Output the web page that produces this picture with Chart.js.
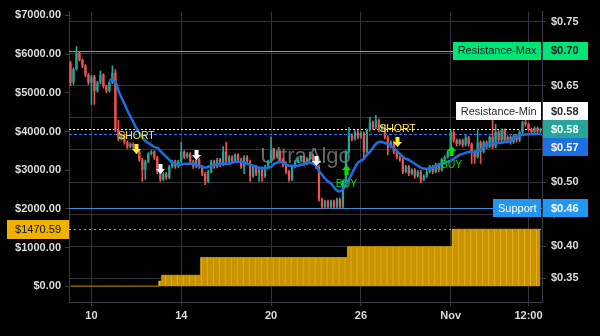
<!DOCTYPE html>
<html lang="en">
<head>
<meta charset="UTF-8">
<title>UltraAlgo</title>
<script src="https://cdn.jsdelivr.net/npm/chart.js@4.4.0/dist/chart.umd.min.js"></script>
<style>
  html, body { margin: 0; padding: 0; background: #000; }
  canvas { display: block; }
</style>
</head>
<body>
<canvas id="chart" width="600" height="336"></canvas>
<script>
// ── Candles (price, right axis) ──────────────────────────────────────────────
const opens = [
  .685,.655,.676,.701,.690,.681,.667,.655,.664,.642,
  .655,.667,.649,.642,.655,.670,.581,.567,.573,.562,
  .555,.559,.555,.547,.535,.519,.532,.544,.547,.538,
  .516,.504,.513,.507,.524,.532,.524,.532,.547,.539,
  .544,.532,.524,.535,.524,.513,.501,.516,.532,.524,
  .535,.527,.547,.532,.539,.532,.542,.535,.524,.539,
  .532,.509,.524,.513,.519,.509,.524,.532,.550,.539,
  .547,.535,.527,.516,.504,.524,.532,.535,.539,.529,
  .536,.542,.532,.524,.473,.462,.470,.461,.470,.462,
  .473,.462,.501,.547,.573,.567,.578,.570,.576,.547,
  .581,.593,.585,.596,.581,.587,.570,.555,.562,.547,
  .539,.535,.516,.524,.513,.519,.509,.516,.504,.509,
  .516,.524,.516,.527,.519,.535,.539,.547,.578,.565,
  .559,.565,.558,.569,.559,.547,.539,.562,.547,.562,
  .555,.570,.555,.578,.565,.581,.565,.570,.562,.572,
  .565,.578,.593,.590,.582,.578,.584,.579
];
const highs = [
  .688,.678,.711,.703,.692,.683,.669,.666,.666,.657,
  .673,.669,.651,.657,.681,.675,.596,.575,.575,.564,
  .561,.561,.557,.549,.537,.534,.546,.549,.549,.540,
  .518,.515,.515,.526,.534,.534,.534,.562,.549,.546,
  .546,.534,.537,.537,.526,.515,.518,.534,.534,.537,
  .537,.555,.562,.541,.541,.544,.544,.537,.541,.541,
  .534,.526,.526,.521,.521,.526,.534,.570,.552,.549,
  .549,.537,.529,.518,.526,.534,.537,.541,.541,.538,
  .547,.544,.534,.526,.475,.472,.472,.472,.472,.475,
  .475,.503,.549,.585,.575,.580,.580,.578,.578,.583,
  .601,.595,.604,.598,.589,.589,.572,.564,.564,.549,
  .541,.537,.526,.526,.521,.521,.518,.518,.511,.518,
  .526,.526,.529,.529,.537,.541,.549,.581,.580,.567,
  .567,.567,.573,.571,.561,.549,.583,.564,.564,.564,
  .572,.619,.590,.580,.583,.583,.572,.572,.574,.574,
  .580,.595,.605,.592,.584,.586,.586,.584
];
const lows = [
  .650,.652,.674,.688,.678,.664,.652,.621,.621,.640,
  .653,.646,.639,.640,.653,.578,.564,.565,.559,.552,
  .553,.552,.544,.532,.501,.504,.530,.542,.535,.513,
  .501,.502,.504,.505,.522,.521,.522,.530,.536,.537,
  .529,.521,.522,.521,.510,.496,.499,.514,.521,.522,
  .524,.525,.529,.530,.529,.530,.532,.521,.513,.529,
  .501,.507,.510,.501,.501,.507,.522,.530,.536,.537,
  .532,.524,.513,.501,.502,.522,.530,.533,.526,.527,
  .534,.529,.521,.470,.458,.460,.459,.459,.460,.460,
  .458,.460,.499,.545,.564,.565,.567,.568,.536,.545,
  .579,.582,.583,.578,.579,.567,.542,.553,.544,.536,
  .532,.513,.514,.510,.511,.506,.507,.499,.502,.507,
  .514,.513,.514,.516,.517,.533,.537,.545,.562,.556,
  .557,.555,.556,.556,.529,.529,.537,.529,.545,.552,
  .553,.552,.553,.562,.563,.562,.563,.559,.560,.562,
  .563,.576,.587,.579,.575,.576,.576,.577
];
const closes = [
  .655,.676,.701,.690,.681,.667,.655,.664,.642,.655,
  .667,.649,.642,.655,.670,.581,.567,.573,.562,.555,
  .559,.555,.547,.535,.519,.532,.544,.547,.538,.516,
  .504,.513,.507,.524,.532,.524,.532,.547,.539,.544,
  .532,.524,.535,.524,.513,.501,.516,.532,.524,.535,
  .527,.547,.532,.539,.532,.542,.535,.524,.539,.532,
  .509,.524,.513,.519,.509,.524,.532,.550,.539,.547,
  .535,.527,.516,.504,.524,.532,.535,.539,.529,.536,
  .542,.532,.524,.473,.462,.470,.461,.470,.462,.473,
  .462,.501,.547,.573,.567,.578,.570,.576,.547,.581,
  .593,.585,.596,.581,.587,.570,.555,.562,.547,.539,
  .535,.516,.524,.513,.519,.509,.516,.504,.509,.516,
  .524,.516,.527,.519,.535,.539,.547,.578,.565,.559,
  .565,.558,.569,.559,.547,.539,.562,.547,.562,.555,
  .570,.555,.578,.565,.581,.565,.570,.562,.572,.565,
  .578,.593,.590,.582,.578,.584,.579,.582
];

// ── Smoothed trend line (right axis) ─────────────────────────────────────────
const trendLine = [
  null,null,null,null,null,null,null,null,null,null,
  null,null,null,.6592,.6592,.6562,.6423,.6315,.6223,.6115,
  .6023,.5931,.5838,.5762,.5700,.5638,.5608,.5577,.5546,.5531,
  .5485,.5438,.5392,.5346,.5300,.5285,.5269,.5269,.5285,.5285,
  .5285,.5285,.5269,.5254,.5238,.5223,.5238,.5254,.5269,.5269,
  .5285,.5285,.5285,.5285,.5300,.5315,.5315,.5315,.5300,.5285,
  .5269,.5254,.5238,.5223,.5223,.5208,.5223,.5238,.5285,.5300,
  .5315,.5300,.5269,.5254,.5254,.5254,.5254,.5269,.5285,.5300,
  .5300,.5285,.5254,.5177,.5115,.5054,.5008,.4977,.4915,.4869,
  .4854,.4885,.4946,.5038,.5131,.5223,.5300,.5331,.5362,.5423,
  .5469,.5531,.5592,.5623,.5623,.5608,.5592,.5562,.5531,.5485,
  .5438,.5392,.5362,.5346,.5315,.5285,.5254,.5223,.5208,.5208,
  .5208,.5223,.5254,.5269,.5285,.5300,.5315,.5331,.5362,.5392,
  .5423,.5438,.5454,.5469,.5469,.5469,.5485,.5500,.5546,.5577,
  .5592,.5608,.5608,.5608,.5608,.5623,.5623,.5638,.5685,.5715,
  .5725,.5735,.5740,.5743,.5745,.5746,.5746,.5746
];

// ── Position value (left axis), a step series: starts at bar index ──────────
const positionStepStart = [0, 30, 31, 44, 93, 128];
const positionStepValue = [0, 130, 280, 740, 1020, 1470.59];

// ── Signals ──────────────────────────────────────────────────────────────────
const signalIndex = [22, 30, 42, 82, 92, 109, 127];
const signalPrice = [.5523, .5223, .5431, .5346, .5169, .5638, .5469];
const signalKind  = ['short', 'exit', 'exit', 'exit', 'buy', 'short', 'buy'];

// ── Levels ───────────────────────────────────────────────────────────────────
const resistanceMax = 0.7046;
const resistanceMin = 0.582;
const supportLevel = 0.459;

// ── Axes ─────────────────────────────────────────────────────────────────────
const leftTicks = [0, 1000, 2000, 3000, 4000, 5000, 6000, 7000];
const rightTicks = [0.35, 0.40, 0.45, 0.50, 0.55, 0.60, 0.65, 0.70, 0.75];
const xTickIndex = [7, 37, 67, 97, 127, 153];
const xTickText = ['10', '14', '20', '26', 'Nov', '12:00'];

const RED = '#f05350', TEAL = '#26a69a', GRID = '#33333d', AXIS = '#3b3b48';
const FONT = "'Liberation Sans', Arial, sans-serif";
const TICK_FONT = { family: FONT, size: 11, weight: 'bold' };
Chart.defaults.font.family = FONT;
Chart.defaults.font.size = 11;

const n = closes.length;
const barLabels = closes.map((_, i) => String(i));
const positionValues = closes.map((_, i) => {
  let v = 0;
  positionStepStart.forEach((s, k) => { if (i >= s) v = positionStepValue[k]; });
  return v;
});
const candleColor = (i) => (closes[i] >= opens[i] ? TEAL : RED);
const lastPrice = closes[n - 1];
const lastTrend = trendLine[n - 1];

// ── Overlays: watermark, level lines, signals, price tags ───────────────────
function hline(ctx, area, y, color, dash) {
  ctx.beginPath();
  ctx.setLineDash(dash);
  ctx.strokeStyle = color;
  ctx.lineWidth = 1;
  ctx.moveTo(area.left, Math.round(y) + 0.5);
  ctx.lineTo(area.right, Math.round(y) + 0.5);
  ctx.stroke();
  ctx.setLineDash([]);
}

function arrow(ctx, x, y, up, color) {
  const d = up ? -1 : 1;
  ctx.fillStyle = color;
  ctx.fillRect(x - 2, y, 4, -5 * d);
  ctx.beginPath();
  ctx.moveTo(x - 4.5, y);
  ctx.lineTo(x + 4.5, y);
  ctx.lineTo(x, y + 5 * d);
  ctx.closePath();
  ctx.fill();
}

function tag(ctx, x, y, w, h, fill, text, color, align, tx) {
  ctx.fillStyle = fill;
  ctx.fillRect(Math.round(x), Math.round(y - h / 2), Math.round(w), h);
  ctx.fillStyle = color;
  ctx.textAlign = align;
  ctx.textBaseline = 'middle';
  ctx.fillText(text, tx, y + 0.5);
}

const overlays = {
  id: 'overlays',
  beforeDatasetsDraw(chart) {
    const { ctx, chartArea: a } = chart;
    const yR = chart.scales.yR, yL = chart.scales.yL;
    ctx.save();
    ctx.beginPath(); ctx.rect(a.left, a.top, a.width, a.height); ctx.clip();
    ctx.font = `22px ${FONT}`;
    ctx.fillStyle = 'rgba(165,165,165,0.62)';
    ctx.textAlign = 'center'; ctx.textBaseline = 'middle';
    ctx.fillText('UltraAlgo', (a.left + a.right) / 2, (a.top + a.bottom) / 2);
    hline(ctx, a, yR.getPixelForValue(resistanceMax), '#22d47f', []);
    hline(ctx, a, yR.getPixelForValue(resistanceMin), '#ffffff', [2, 2]);
    hline(ctx, a, yR.getPixelForValue(lastTrend), '#2a7bef', [3, 2]);
    hline(ctx, a, yR.getPixelForValue(supportLevel), '#3b8fd9', []);
    hline(ctx, a, yL.getPixelForValue(positionStepValue[positionStepValue.length - 1]), '#e0a800', [2, 3]);
    ctx.restore();
  },
  afterDatasetsDraw(chart) {
    const { ctx } = chart;
    const x = chart.scales.x, yR = chart.scales.yR;
    ctx.save();
    ctx.font = `10.5px ${FONT}`;
    ctx.textAlign = 'center'; ctx.textBaseline = 'middle';
    signalIndex.forEach((idx, k) => {
      const px = Math.round(x.getPixelForValue(idx)) + 0.5;
      const py = Math.round(yR.getPixelForValue(signalPrice[k]));
      const kind = signalKind[k];
      if (kind === 'buy') {
        arrow(ctx, px, py - 1, true, '#00e600');
        ctx.fillStyle = '#00e600';
        ctx.fillText('BUY', px, py + 13);
      } else {
        const c = kind === 'short' ? '#ffeb3b' : '#ffffff';
        arrow(ctx, px, py + 1, false, c);
        if (kind === 'short') {
          ctx.fillStyle = c;
          ctx.fillText('SHORT', px, py - 12);
        }
      }
    });
    ctx.restore();
  },
  afterDraw(chart) {
    const { ctx, chartArea: a } = chart;
    const yR = chart.scales.yR, yL = chart.scales.yL;
    const h = 18;
    ctx.save();
    const fmt = (v) => '$' + v.toFixed(2);

    // right-side tags; the last price one stays put, the others are pushed off it
    const anchor = { y: yR.getPixelForValue(lastPrice), fill: TEAL, color: '#fff', value: lastPrice };
    const tags = [
      { y: yR.getPixelForValue(resistanceMax), fill: '#00e676', color: '#131722', value: resistanceMax, name: 'Resistance-Max' },
      { y: yR.getPixelForValue(resistanceMin), fill: '#ffffff', color: '#2a2a2a', value: resistanceMin, name: 'Resistance-Min' },
      { y: yR.getPixelForValue(lastTrend), fill: '#1c6fe3', color: '#fff', value: lastTrend },
      { y: yR.getPixelForValue(supportLevel), fill: '#2196f3', color: '#fff', value: supportLevel, name: 'Support' },
    ];
    const placed = [anchor];
    tags.forEach((t) => {
      placed.forEach((p) => {
        if (Math.abs(t.y - p.y) < h) t.y = t.y <= p.y ? p.y - h : p.y + h;
      });
      placed.push(t);
    });
    placed.forEach((t) => {
      ctx.font = `bold 11px ${FONT}`;
      tag(ctx, a.right + 1, t.y, 45, h, t.fill, fmt(t.value), t.color, 'left', a.right + 9);
      if (t.name) {
        ctx.font = `11px ${FONT}`;
        const w = ctx.measureText(t.name).width + 9;
        tag(ctx, a.right - 1 - w, t.y, w, h, t.fill, t.name, t.color, 'center', a.right - 1 - w / 2);
      }
    });

    // left-side position tag
    ctx.font = `11px ${FONT}`;
    const pv = positionStepValue[positionStepValue.length - 1];
    const py = yL.getPixelForValue(pv);
    const txt = fmt(pv);
    const tw = ctx.measureText(txt).width;
    tag(ctx, a.left - 16 - tw, py, tw + 16, 19, '#f0b000', txt, '#131722', 'right', a.left - 8);
    ctx.restore();
  }
};

new Chart(document.getElementById('chart'), {
  type: 'bar',
  data: {
    labels: barLabels,
    datasets: [
      {
        type: 'line', data: trendLine, yAxisID: 'yR', order: 0,
        borderColor: '#1c6fe3', borderWidth: 2.5, pointRadius: 0, tension: 0.35, fill: false,
      },
      {
        data: opens.map((o, i) => [o, closes[i]]), yAxisID: 'yR', order: 1, grouped: false,
        backgroundColor: (c) => candleColor(c.dataIndex), borderWidth: 0,
        barPercentage: 0.75, categoryPercentage: 1, minBarLength: 1,
      },
      {
        data: lows.map((l, i) => [l, highs[i]]), yAxisID: 'yR', order: 2, grouped: false,
        backgroundColor: (c) => candleColor(c.dataIndex), borderWidth: 0, barThickness: 1,
      },
      {
        // thin lighter stripes on the position area
        data: positionValues, yAxisID: 'yL', order: 3, grouped: false,
        backgroundColor: 'rgba(0,0,0,0)', borderColor: 'rgba(240,184,50,0.75)',
        borderWidth: (c) => (c.dataIndex % 2 ? 0 : { left: 1, top: 0, right: 0, bottom: 0 }),
        borderSkipped: false, barPercentage: 1, categoryPercentage: 1, inflateAmount: 0,
      },
      {
        type: 'line', data: positionValues, yAxisID: 'yL', order: 4,
        stepped: 'middle', borderColor: '#d49a00', borderWidth: 1, pointRadius: 0,
        fill: 'origin', backgroundColor: '#c99400',
      },
    ],
  },
  options: {
    responsive: false,
    animation: false,
    events: [],
    devicePixelRatio: 1,
    layout: { padding: { top: 8, left: 0, right: 0, bottom: 0 } },
    plugins: { legend: { display: false }, tooltip: { enabled: false } },
    scales: {
      x: {
        type: 'category',
        grid: { color: GRID, offset: false, tickLength: 4, tickColor: AXIS },
        border: { color: AXIS },
        ticks: {
          color: '#dcdcdc', font: TICK_FONT, autoSkip: false, maxRotation: 0, padding: 3,
          callback: (v, i) => { const k = xTickIndex.indexOf(i); return k >= 0 ? xTickText[k] : null; },
        },
        afterFit: (s) => { s.height = 34; },
      },
      yL: {
        position: 'left', min: -410, max: 7100,
        afterBuildTicks: (s) => { s.ticks = leftTicks.map((v) => ({ value: v })); },
        grid: { drawOnChartArea: false, tickLength: 4, color: AXIS },
        border: { color: AXIS },
        ticks: { color: '#dcdcdc', font: TICK_FONT, padding: 4, callback: (v) => '$' + v.toFixed(2) },
        afterFit: (s) => { s.width = 69; },
      },
      yR: {
        position: 'right', min: 0.3131, max: 0.7654,
        afterBuildTicks: (s) => { s.ticks = rightTicks.map((v) => ({ value: v })); },
        grid: { color: GRID, tickLength: 4, tickColor: AXIS },
        border: { color: AXIS },
        ticks: { color: '#dcdcdc', font: TICK_FONT, padding: 5, callback: (v) => '$' + v.toFixed(2) },
        afterFit: (s) => { s.width = 58; },
      },
    },
  },
  plugins: [overlays],
});
</script>
</body>
</html>
